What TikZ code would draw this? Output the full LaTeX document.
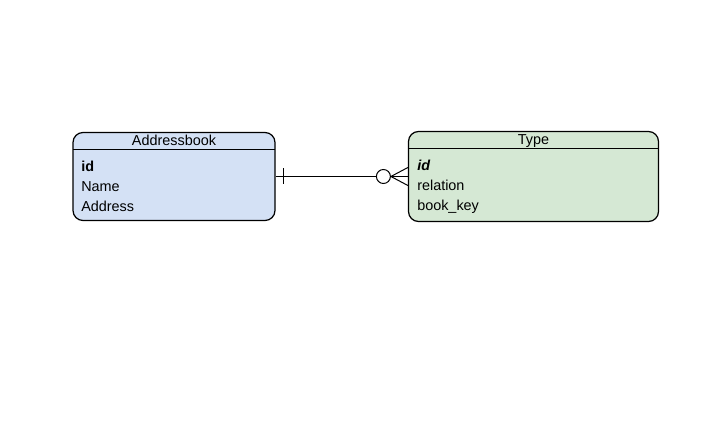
\documentclass[tikz,border=0pt]{standalone}
\usepackage{fontspec}
\setmainfont{Liberation Sans}
\usetikzlibrary{calc}
\definecolor{abfill}{HTML}{D4E1F5}
\definecolor{tyfill}{HTML}{D5E8D4}
\begin{document}
\begin{tikzpicture}[x=0.75pt,y=-0.75pt,
  entity/.style={draw=black,line width=0.9pt,rounded corners=7.5pt,inner sep=0pt},
  attr/.style={anchor=base west,inner sep=0pt,font=\fontsize{10.8}{12}\selectfont},
  head/.style={anchor=base,inner sep=0pt,font=\fontsize{10.8}{12}\selectfont},
  conn/.style={line width=0.75pt}]
\useasboundingbox (0,0) rectangle (727,441);
\fill[white] (0,0) rectangle (727,441);
% Addressbook
\node[entity,fill=abfill,minimum width=151.5pt,minimum height=66pt] (ab) at (174,176.5) {};
\draw[line width=0.75pt] (73,150) coordinate (abhl) -- (275,150) coordinate (abhr);
\node[head] (abt) at (174,146) {Addressbook};
\node[attr] (ab1) at (81,171.7) {\bfseries id};
\node[attr] (ab2) at (81,191.7) {Name};
\node[attr] (ab3) at (81,211.7) {Address};
% Type
\node[entity,fill=tyfill,minimum width=187.5pt,minimum height=67.5pt] (ty) at (533.5,176.5) {};
\draw[line width=0.75pt] (408.5,149) coordinate (tyhl) -- (658.5,149) coordinate (tyhr);
\node[head] (tyt) at (533.5,145) {Type};
\node[attr] (ty1) at (417,170.5) {\bfseries\itshape id};
\node[attr] (ty2) at (417,190.7) {relation};
\node[attr] (ty3) at (417,210.7) {book\_key};
% connector
\coordinate (tick) at ($(ab.east)+(8,0)$);
\coordinate (circ) at ($(ty.west)+(-24.5,0)$);
\coordinate (foot) at ($(ty.west)+(-17,0)$);
\draw[conn] (ab.east) -- (ty.west);
\draw[conn] ($(tick)+(0,-8)$) -- ($(tick)+(0,8)$);
\draw[conn,fill=white] (circ) circle[radius=7];
\draw[conn] (foot) -- ($(ty.west)+(0,-9)$);
\draw[conn] (foot) -- ($(ty.west)+(0,9)$);
\end{tikzpicture}
\end{document}
